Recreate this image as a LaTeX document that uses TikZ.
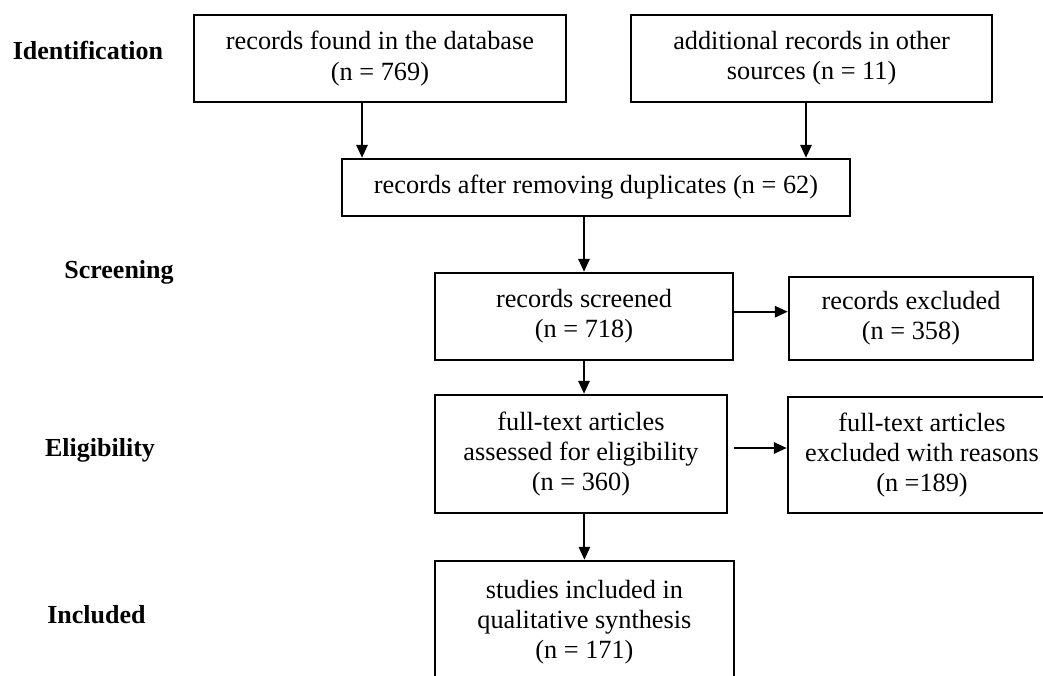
\documentclass[tikz,border=0pt]{standalone}
\usepackage{fontspec}
\setmainfont{Liberation Serif}
\usetikzlibrary{positioning,arrows.meta,calc}

\begin{document}
\begin{tikzpicture}[
  box/.style={rectangle, draw, line width=1.8pt, align=center, inner sep=2pt,
    font=\fontsize{18.7}{21.5}\selectfont},
  phase/.style={font=\fontsize{18.5}{21}\selectfont\bfseries, anchor=center},
  arrow/.style={-{Triangle[length=3.2mm, width=2.8mm]}, line width=1.5pt},
]
\useasboundingbox (0,0) rectangle (26.075,-16.875);
\clip (0,0) rectangle (26.075,-16.875);

% === PHASE LABELS (left column) ===
\node[phase] (ident) at (2.2,-1.25)    {Identification};
\node[phase] (screen) at (2.975,-6.8)  {Screening};
\node[phase] (elig) at (2.5,-11.25)    {Eligibility};
\node[phase] (incl) at (2.41,-15.375)  {Included};

% === FLOW BOXES ===
\node[box, minimum width=9.3cm,   minimum height=2.175cm] (db)     at (9.5,-1.4625)
  {records found in the database\\(n = 769)};
\node[box, minimum width=9.025cm, minimum height=2.175cm] (other)  at (20.29,-1.4625)
  {additional records in other\\sources (n = 11)};
\node[box, minimum width=12.7cm,  minimum height=1.425cm] (dup)    at (14.9,-4.6875)
  {records after removing duplicates (n = 62)};
\node[box, minimum width=7.45cm,  minimum height=2.175cm] (scr)    at (14.6,-7.9125)
  {records screened\\(n = 718)};
\node[box, minimum width=6.1cm,   minimum height=2.075cm] (excl)   at (22.775,-7.9625)
  {records excluded\\(n = 358)};
\node[box, minimum width=7.3cm,   minimum height=2.95cm]  (assess) at (14.525,-11.35)
  {full-text articles\\assessed for eligibility\\(n = 360)};
\node[box, minimum width=6.7cm,   minimum height=2.9cm]   (ftexcl) at (23.05,-11.375)
  {full-text articles\\excluded with reasons\\(n =189)};
\node[box, minimum width=7.475cm, minimum height=3.05cm]  (synth)  at (14.61,-15.55)
  {studies included in\\qualitative synthesis\\(n = 171)};

% === CONNECTORS ===
\draw[arrow] ([xshift=-4.5mm]db.south) -- ([xshift=-4.5mm]db.south |- dup.north);
\draw[arrow] ([xshift=-1.4mm]other.south) -- ([xshift=-1.4mm]other.south |- dup.north);
\draw[arrow] (scr.north |- dup.south) -- (scr.north);
\draw[arrow] (scr.south) -- (scr.south |- assess.north);
\draw[arrow] ([yshift=1.2mm]scr.east) -- ([yshift=1.2mm]scr.east -| excl.west);
\draw[arrow] (synth.north |- assess.south) -- (synth.north);
\draw[arrow, shorten <=1.5mm] ([yshift=1.5mm]assess.east) -- ([yshift=1.5mm]assess.east -| ftexcl.west);
\end{tikzpicture}
\end{document}
